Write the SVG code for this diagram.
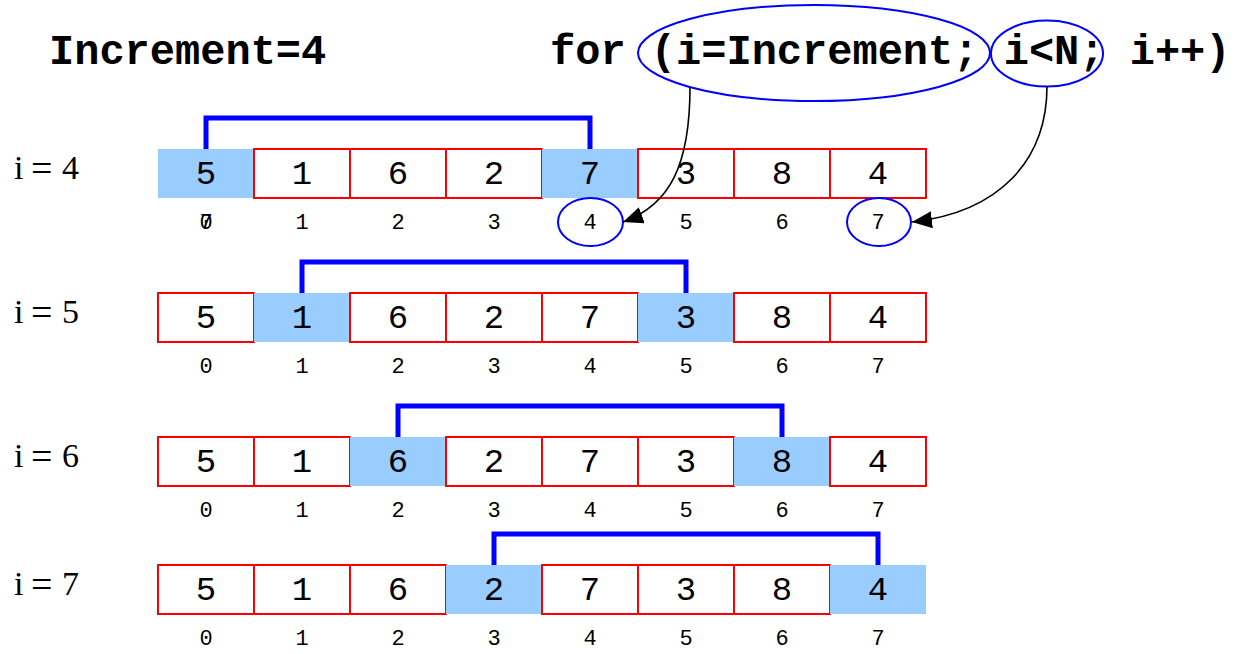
<svg xmlns="http://www.w3.org/2000/svg" width="1253" height="654" viewBox="0 0 1253 654">
  <style>
    .title { font-family: "Liberation Mono", "Courier New", monospace; font-weight: bold; font-size: 42px; fill: #000; }
    .rowlbl { font-family: "Liberation Serif", "Times New Roman", serif; font-size: 34px; fill: #000; }
    .eq { font-size: 38px; }
    .cell { fill: #fff; stroke: #ff0000; stroke-width: 2; }
    .hl { fill: #99ccff; stroke: none; }
    .val { font-family: "Liberation Mono", "Courier New", monospace; font-size: 34px; fill: #000; text-anchor: middle; }
    .idx { font-family: "Liberation Mono", "Courier New", monospace; font-size: 22px; fill: #000; text-anchor: middle; }
    .bracket { fill: none; stroke: #0000ff; stroke-width: 5; }
    .ring { fill: none; stroke: #0000ff; stroke-width: 2; }
    .arrow { fill: none; stroke: #000; stroke-width: 1.6; marker-end: url(#head); }
  </style>
  <defs>
    <marker id="head" markerUnits="userSpaceOnUse" markerWidth="22" markerHeight="18" refX="20" refY="8.5" orient="auto">
      <path d="M0,0 L20,8.5 L0,17 Z" fill="#000"/>
    </marker>
  </defs>
  <rect width="1253" height="654" fill="#fff"/>

  <!-- heading -->
  <g id="heading">
    <text class="title" x="49" y="64">Increment=4</text>
    <text class="title" x="550" y="64">for (i=Increment; i&lt;N; i++)</text>
    <ellipse class="ring" cx="814" cy="53" rx="176" ry="48"/>
    <ellipse class="ring" cx="1047" cy="53.5" rx="56" ry="33"/>
  </g>

  <!-- pass i = 4 -->
  <g id="row-i4">
    <text class="rowlbl" x="14" y="179">i<tspan class="eq" x="31" dy="2">=</tspan><tspan x="62" dy="-2">4</tspan></text>
    <rect class="hl" x="158" y="149" width="96" height="49"/>
    <rect class="cell" x="254" y="149" width="96" height="49"/>
    <rect class="cell" x="350" y="149" width="96" height="49"/>
    <rect class="cell" x="446" y="149" width="96" height="49"/>
    <rect class="hl" x="542" y="149" width="96" height="49"/>
    <rect class="cell" x="638" y="149" width="96" height="49"/>
    <rect class="cell" x="734" y="149" width="96" height="49"/>
    <rect class="cell" x="830" y="149" width="96" height="49"/>
    <text class="val" x="206" y="184">5</text>
    <text class="val" x="302" y="184">1</text>
    <text class="val" x="398" y="184">6</text>
    <text class="val" x="494" y="184">2</text>
    <text class="val" x="590" y="184">7</text>
    <text class="val" x="686" y="184">3</text>
    <text class="val" x="782" y="184">8</text>
    <text class="val" x="878" y="184">4</text>
    <text class="idx" x="206" y="229">0</text>
    <text class="idx" x="206" y="229">7</text>
    <text class="idx" x="302" y="229">1</text>
    <text class="idx" x="398" y="229">2</text>
    <text class="idx" x="494" y="229">3</text>
    <text class="idx" x="590" y="229">4</text>
    <text class="idx" x="686" y="229">5</text>
    <text class="idx" x="782" y="229">6</text>
    <text class="idx" x="878" y="229">7</text>
    <polyline class="bracket" points="206,149 206,118 590,118 590,149"/>
    <ellipse class="ring" cx="590.5" cy="222" rx="32.5" ry="24"/>
    <ellipse class="ring" cx="879" cy="222" rx="32" ry="24"/>
  </g>

  <!-- pass i = 5 -->
  <g id="row-i5">
    <text class="rowlbl" x="14" y="323">i<tspan class="eq" x="31" dy="2">=</tspan><tspan x="62" dy="-2">5</tspan></text>
    <rect class="cell" x="158" y="293" width="96" height="49"/>
    <rect class="hl" x="254" y="293" width="96" height="49"/>
    <rect class="cell" x="350" y="293" width="96" height="49"/>
    <rect class="cell" x="446" y="293" width="96" height="49"/>
    <rect class="cell" x="542" y="293" width="96" height="49"/>
    <rect class="hl" x="638" y="293" width="96" height="49"/>
    <rect class="cell" x="734" y="293" width="96" height="49"/>
    <rect class="cell" x="830" y="293" width="96" height="49"/>
    <text class="val" x="206" y="328">5</text>
    <text class="val" x="302" y="328">1</text>
    <text class="val" x="398" y="328">6</text>
    <text class="val" x="494" y="328">2</text>
    <text class="val" x="590" y="328">7</text>
    <text class="val" x="686" y="328">3</text>
    <text class="val" x="782" y="328">8</text>
    <text class="val" x="878" y="328">4</text>
    <text class="idx" x="206" y="373">0</text>
    <text class="idx" x="302" y="373">1</text>
    <text class="idx" x="398" y="373">2</text>
    <text class="idx" x="494" y="373">3</text>
    <text class="idx" x="590" y="373">4</text>
    <text class="idx" x="686" y="373">5</text>
    <text class="idx" x="782" y="373">6</text>
    <text class="idx" x="878" y="373">7</text>
    <polyline class="bracket" points="302,293 302,262 686,262 686,293"/>
  </g>

  <!-- pass i = 6 -->
  <g id="row-i6">
    <text class="rowlbl" x="14" y="467">i<tspan class="eq" x="31" dy="2">=</tspan><tspan x="62" dy="-2">6</tspan></text>
    <rect class="cell" x="158" y="437" width="96" height="49"/>
    <rect class="cell" x="254" y="437" width="96" height="49"/>
    <rect class="hl" x="350" y="437" width="96" height="49"/>
    <rect class="cell" x="446" y="437" width="96" height="49"/>
    <rect class="cell" x="542" y="437" width="96" height="49"/>
    <rect class="cell" x="638" y="437" width="96" height="49"/>
    <rect class="hl" x="734" y="437" width="96" height="49"/>
    <rect class="cell" x="830" y="437" width="96" height="49"/>
    <text class="val" x="206" y="472">5</text>
    <text class="val" x="302" y="472">1</text>
    <text class="val" x="398" y="472">6</text>
    <text class="val" x="494" y="472">2</text>
    <text class="val" x="590" y="472">7</text>
    <text class="val" x="686" y="472">3</text>
    <text class="val" x="782" y="472">8</text>
    <text class="val" x="878" y="472">4</text>
    <text class="idx" x="206" y="517">0</text>
    <text class="idx" x="302" y="517">1</text>
    <text class="idx" x="398" y="517">2</text>
    <text class="idx" x="494" y="517">3</text>
    <text class="idx" x="590" y="517">4</text>
    <text class="idx" x="686" y="517">5</text>
    <text class="idx" x="782" y="517">6</text>
    <text class="idx" x="878" y="517">7</text>
    <polyline class="bracket" points="398,437 398,406 782,406 782,437"/>
  </g>

  <!-- pass i = 7 -->
  <g id="row-i7">
    <text class="rowlbl" x="14" y="595">i<tspan class="eq" x="31" dy="2">=</tspan><tspan x="62" dy="-2">7</tspan></text>
    <rect class="cell" x="158" y="565" width="96" height="49"/>
    <rect class="cell" x="254" y="565" width="96" height="49"/>
    <rect class="cell" x="350" y="565" width="96" height="49"/>
    <rect class="hl" x="446" y="565" width="96" height="49"/>
    <rect class="cell" x="542" y="565" width="96" height="49"/>
    <rect class="cell" x="638" y="565" width="96" height="49"/>
    <rect class="cell" x="734" y="565" width="96" height="49"/>
    <rect class="hl" x="830" y="565" width="96" height="49"/>
    <text class="val" x="206" y="600">5</text>
    <text class="val" x="302" y="600">1</text>
    <text class="val" x="398" y="600">6</text>
    <text class="val" x="494" y="600">2</text>
    <text class="val" x="590" y="600">7</text>
    <text class="val" x="686" y="600">3</text>
    <text class="val" x="782" y="600">8</text>
    <text class="val" x="878" y="600">4</text>
    <text class="idx" x="206" y="645">0</text>
    <text class="idx" x="302" y="645">1</text>
    <text class="idx" x="398" y="645">2</text>
    <text class="idx" x="494" y="645">3</text>
    <text class="idx" x="590" y="645">4</text>
    <text class="idx" x="686" y="645">5</text>
    <text class="idx" x="782" y="645">6</text>
    <text class="idx" x="878" y="645">7</text>
    <polyline class="bracket" points="494,565 494,534 878,534 878,565"/>
  </g>

  <!-- connectors from the loop header to the index range -->
  <g id="connectors">
    <path class="arrow" d="M690,87 C690,165 670,205 623,222"/>
    <path class="arrow" d="M1047,86 C1047,160 1000,212 912,222"/>
  </g>
</svg>
